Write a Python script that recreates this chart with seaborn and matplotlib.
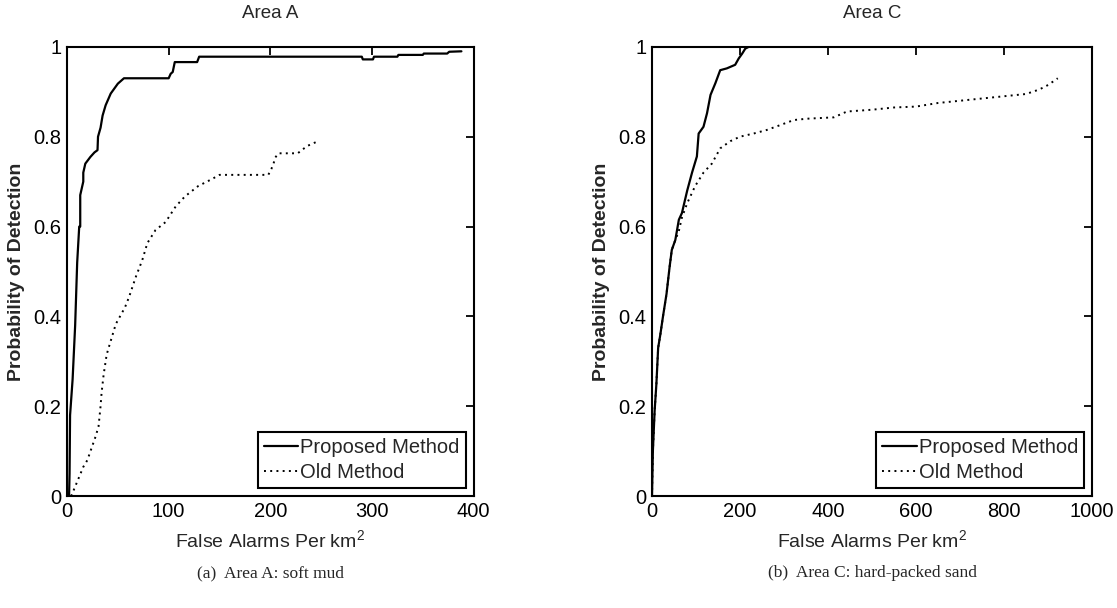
import pandas as pd
import seaborn as sns
import matplotlib.pyplot as plt


sns.set_theme(style="white")
plt.rcParams['font.family'] = ['Liberation Sans', 'DejaVu Sans']
plt.rcParams['mathtext.default'] = 'regular'

# Area A (soft mud)
fa_a_new = [2, 2.5, 3, 5.5, 8, 10, 12, 13, 13, 14, 16, 16, 18, 23, 27, 30, 30.5, 33, 35, 38,
            43, 50, 56, 100, 102, 104, 106, 128, 130, 290, 291, 301, 302, 325, 326, 350,
            351, 374, 376, 388]
pd_a_new = [0, 0.05, 0.18, 0.26, 0.38, 0.52, 0.6, 0.6, 0.67, 0.68, 0.70, 0.72, 0.74, 0.755,
            0.765, 0.77, 0.80, 0.82, 0.847, 0.87, 0.896, 0.918, 0.93, 0.93, 0.94, 0.944,
            0.966, 0.966, 0.978, 0.978, 0.972, 0.972, 0.978, 0.978, 0.982, 0.982, 0.985,
            0.985, 0.989, 0.99]
fa_a_old = [4, 6.5, 12, 16, 20, 24, 28, 31, 33, 34, 36, 39, 42, 48, 57, 61, 68, 74, 79, 87,
            97, 107, 116, 129, 142, 150, 198, 201, 203, 205, 208, 227, 232, 237, 241, 246]
pd_a_old = [0, 0.013, 0.043, 0.065, 0.08, 0.106, 0.132, 0.155, 0.2, 0.23, 0.27, 0.315, 0.338,
            0.383, 0.42, 0.443, 0.49, 0.525, 0.563, 0.592, 0.61, 0.645, 0.667, 0.69, 0.705,
            0.715, 0.715, 0.728, 0.739, 0.754, 0.763, 0.763, 0.772, 0.78, 0.784, 0.789]

# Area C (hard-packed sand)
fa_c_new = [0, 2, 6, 10, 14, 19, 25, 33, 40, 45, 53, 61, 68, 80, 91, 102, 106, 117, 125, 133,
            144, 155, 170, 189, 197, 205, 212, 220]
pd_c_new = [0, 0.1, 0.19, 0.25, 0.33, 0.36, 0.40, 0.45, 0.51, 0.548, 0.57, 0.615, 0.63, 0.68,
            0.72, 0.756, 0.807, 0.822, 0.852, 0.893, 0.919, 0.948, 0.952, 0.96, 0.974, 0.985,
            0.996, 1.0]
fa_c_old = [0, 2, 6, 10, 14, 19, 25, 33, 40, 45, 53, 61, 68, 80, 98, 117, 136, 155, 178, 200,
            231, 261, 292, 322, 352, 413, 443, 500, 550, 600, 650, 700, 750, 800, 850, 880,
            900, 922]
pd_c_old = [0, 0.1, 0.19, 0.25, 0.33, 0.36, 0.40, 0.45, 0.51, 0.548, 0.57, 0.59, 0.62, 0.652,
            0.69, 0.72, 0.74, 0.774, 0.79, 0.80, 0.807, 0.815, 0.826, 0.837, 0.84, 0.843,
            0.856, 0.86, 0.865, 0.867, 0.875, 0.88, 0.885, 0.89, 0.895, 0.905, 0.915, 0.93]

y_ticks = [0, 0.2, 0.4, 0.6, 0.8, 1]
y_ticklabels = ["0", "0.2", "0.4", "0.6", "0.8", "1"]
panels = [
    ("Area A", "(a)  Area A: soft mud", fa_a_new, pd_a_new, fa_a_old, pd_a_old,
     [0, 100, 200, 300, 400]),
    ("Area C", "(b)  Area C: hard-packed sand", fa_c_new, pd_c_new, fa_c_old, pd_c_old,
     [0, 200, 400, 600, 800, 1000]),
]

fig = plt.figure(figsize=(11.17, 6.08), dpi=100)
boxes = [[0.060, 0.184, 0.364, 0.739], [0.5837, 0.184, 0.394, 0.739]]

for box, (title, caption, xn, yn, xo, yo, xt) in zip(boxes, panels):
    ax = fig.add_axes(box)
    new = pd.DataFrame({"fa": xn, "pd": yn})
    old = pd.DataFrame({"fa": xo, "pd": yo})
    sns.lineplot(data=new, x="fa", y="pd", sort=False, estimator=None, ax=ax,
                 color="black", linewidth=1.6, label="Proposed Method")
    sns.lineplot(data=old, x="fa", y="pd", sort=False, estimator=None, ax=ax,
                 color="black", linewidth=1.4, linestyle=(0, (1, 2.2)), label="Old Method")
    ax.set_xlim(xt[0], xt[-1])
    ax.set_ylim(0, 1)
    ax.set_xticks(xt)
    ax.set_xticklabels([str(v) for v in xt])
    ax.set_yticks(y_ticks)
    ax.set_yticklabels(y_ticklabels)
    ax.tick_params(direction="in", length=6, width=1.3, top=True, right=True,
                   labelsize=14.5, pad=4, colors="black")
    for s in ax.spines.values():
        s.set_color("black")
        s.set_linewidth(1.5)
    ax.set_title(title, fontsize=13.5, pad=21)
    ax.set_xlabel("False Alarms Per km$^2$", fontsize=14, labelpad=6)
    ax.set_ylabel("Probability of Detection", fontsize=14, fontweight="bold", labelpad=6)
    leg = ax.legend(loc="lower right", fontsize=14.5, frameon=True, fancybox=False,
                    edgecolor="black", framealpha=1, handlelength=1.7, handletextpad=0.1,
                    borderaxespad=0.4, borderpad=0.3, labelspacing=0.3)
    leg.get_frame().set_linewidth(1.5)
    fig.text(box[0] + box[2] / 2, 0.057, caption, ha="center", va="center",
             fontsize=12.5, family=["Liberation Serif", "DejaVu Serif"])

plt.savefig("out.png", dpi=100)
